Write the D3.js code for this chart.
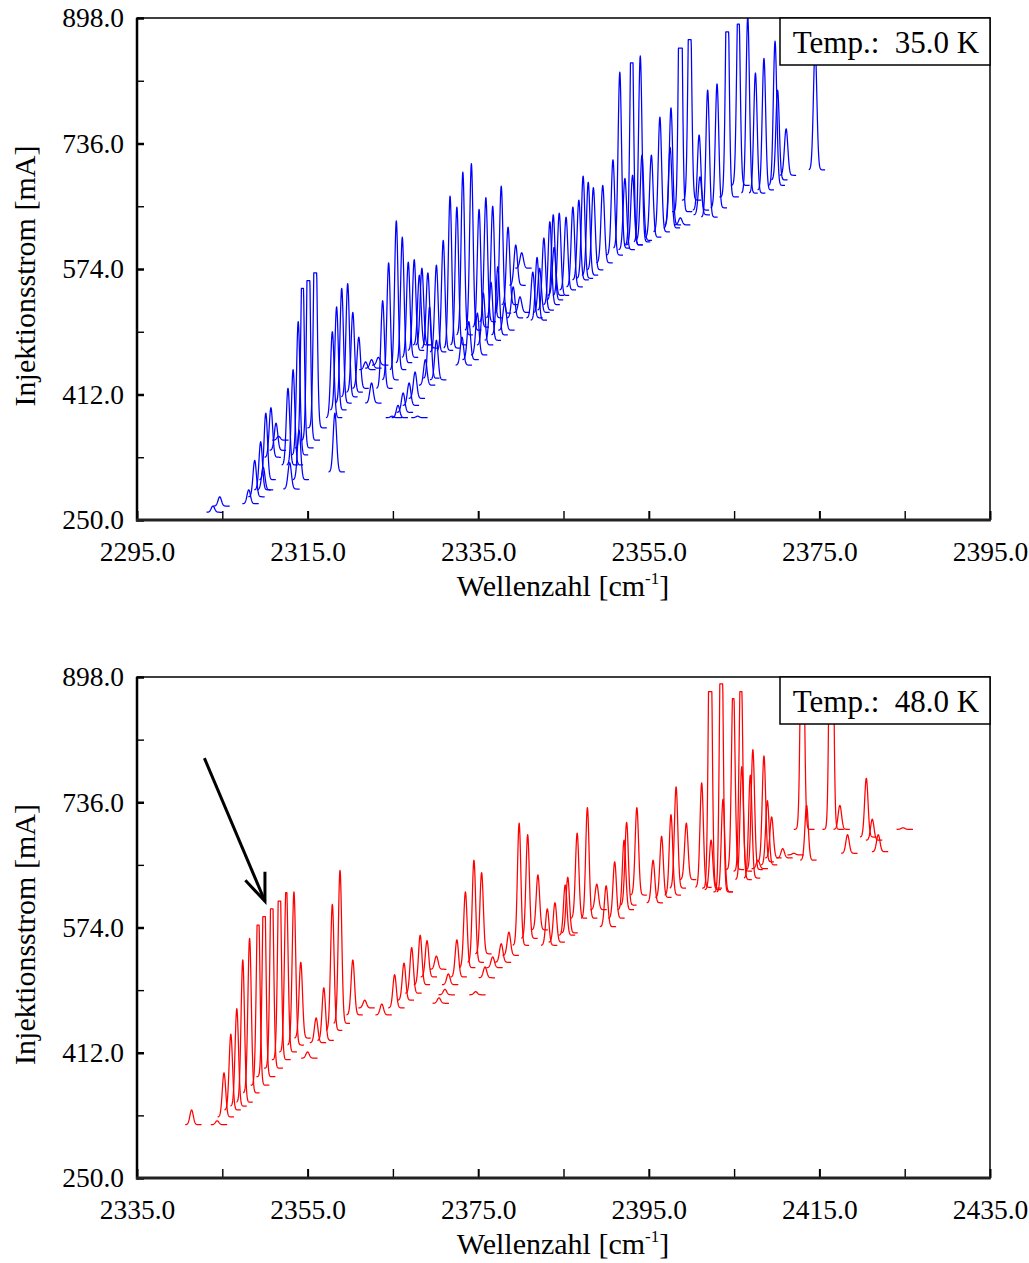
<!DOCTYPE html>
<html>
<head>
<meta charset="utf-8">
<script src="https://cdn.jsdelivr.net/npm/d3@7"></script>
<style>
  body { margin: 0; background: #fff; }
  text { font-family: "Liberation Serif", "Times New Roman", serif; fill: #000; }
</style>
</head>
<body>
<svg id="chart" width="1029" height="1263"></svg>
<script>
// Injection current axis (mA), shared by both panels
const currentTicks = [250, 331, 412, 493, 574, 655, 736, 817, 898];
const currentLabels = [250, 412, 574, 736, 898];

// Wavenumber axes (cm^-1)
const waveTicks35 = [2295, 2305, 2315, 2325, 2335, 2345, 2355, 2365, 2375, 2385, 2395];
const waveLabels35 = [2295, 2315, 2335, 2355, 2375, 2395];
const waveTicks48 = [2335, 2345, 2355, 2365, 2375, 2385, 2395, 2405, 2415, 2425, 2435];
const waveLabels48 = [2335, 2355, 2375, 2395, 2415, 2435];

// Emission spectra at 35.0 K: [peak wavenumber, peak top (mA), trace baseline = injection current (mA), saturated plateau width (cm^-1)]
const spectra35 = [
  [2303.9, 268, 260], [2304.7, 280, 268], [2308.1, 289, 271], [2308.8, 327, 280],
  [2309.5, 351, 289], [2309.8, 318, 289], [2310.1, 388, 302], [2310.7, 395, 331],
  [2311.3, 375, 340], [2311.6, 358, 353], [2312.7, 420, 321], [2312.9, 324, 290],
  [2313.3, 444, 321], [2313.9, 506, 334], [2314.0, 366, 302], [2314.4, 549, 343, 0.25],
  [2315.1, 559, 353, 0.35], [2315.9, 569, 369, 0.35], [2317.9, 493, 382], [2318.2, 388, 312],
  [2318.4, 525, 392], [2319.0, 549, 401], [2319.7, 555, 409], [2320.3, 518, 415],
  [2321.0, 486, 420], [2321.8, 454, 444], [2322.5, 457, 446], [2323.3, 460, 450],
  [2322.5, 427, 401], [2323.8, 533, 420], [2324.5, 582, 431], [2325.4, 636, 444],
  [2326.1, 615, 453], [2326.8, 583, 460], [2327.5, 586, 469], [2328.1, 566, 476],
  [2325.6, 398, 382], [2326.2, 414, 389], [2326.9, 427, 398], [2327.6, 441, 407],
  [2324.9, 384, 382], [2327.9, 384, 382],
  [2328.4, 575, 476], [2329.1, 569, 472], [2330.1, 579, 467], [2330.9, 611, 469],
  [2331.7, 668, 472], [2332.5, 654, 476], [2333.2, 699, 489], [2334.2, 710, 495],
  [2335.1, 651, 499], [2335.9, 666, 506], [2336.7, 655, 511], [2337.7, 681, 517],
  [2338.5, 628, 528], [2339.4, 605, 553], [2340.1, 595, 575],
  [2329.3, 525, 433], [2333.1, 486, 450], [2333.9, 506, 457], [2334.9, 517, 463],
  [2335.6, 543, 476], [2336.5, 557, 482], [2337.3, 577, 489], [2338.1, 530, 495],
  [2339.1, 551, 511], [2339.9, 538, 518], [2328.8, 457, 424], [2330.1, 482, 431],
  [2341.4, 570, 511], [2341.9, 589, 508], [2342.2, 575, 518], [2342.7, 614, 521],
  [2343.4, 635, 528], [2343.8, 644, 534], [2343.9, 602, 540], [2344.5, 646, 540],
  [2345.3, 641, 547], [2346.1, 654, 551], [2346.8, 663, 560], [2347.3, 694, 562],
  [2347.9, 686, 566], [2348.5, 679, 573], [2349.6, 682, 582], [2350.8, 715, 592],
  [2351.6, 828, 601], [2352.2, 691, 599], [2353.0, 840, 605, 0.3], [2354.0, 849, 609],
  [2353.1, 695, 605], [2354.2, 721, 611], [2355.3, 721, 615], [2356.3, 770, 622],
  [2357.5, 731, 627], [2357.6, 782, 631], [2358.7, 640, 631], [2358.7, 859, 648, 0.45],
  [2359.8, 870, 663, 0.35], [2360.9, 747, 650], [2361.0, 693, 644], [2361.9, 805, 641],
  [2363.0, 813, 653], [2364.2, 880, 667, 0.35], [2365.5, 890, 682, 0.25], [2366.6, 900, 672],
  [2367.5, 827, 672], [2368.5, 846, 676], [2369.8, 868, 682], [2370.1, 805, 689],
  [2371.1, 755, 695], [2374.5, 860, 702]
];

// Emission spectra at 48.0 K, same layout
const spectra48 = [
  [2341.4, 338, 319], [2344.4, 324, 319], [2345.2, 386, 329], [2346.0, 436, 338],
  [2346.7, 469, 343], [2347.4, 532, 348], [2348.2, 560, 360], [2349.2, 577, 370, 0.25],
  [2349.9, 588, 381, 0.3], [2350.8, 598, 392, 0.3], [2351.7, 608, 403, 0.3], [2352.5, 619, 413, 0.15],
  [2353.4, 620, 422], [2354.2, 529, 431], [2355.0, 413, 405], [2356.0, 457, 425],
  [2356.9, 496, 428], [2357.9, 604, 441], [2358.8, 648, 450], [2360.3, 532, 461],
  [2361.7, 480, 470], [2363.7, 475, 461], [2365.2, 513, 470], [2366.3, 528, 480],
  [2367.2, 548, 489], [2368.2, 564, 500], [2369.0, 557, 510], [2370.1, 537, 520],
  [2370.4, 483, 476], [2371.1, 494, 487], [2371.5, 514, 500], [2372.5, 558, 510],
  [2373.5, 620, 522], [2374.5, 661, 529], [2374.7, 491, 487], [2375.4, 645, 540],
  [2375.8, 523, 509], [2376.7, 536, 522], [2377.7, 553, 529], [2378.6, 568, 538],
  [2379.8, 709, 551], [2380.8, 694, 560], [2382.0, 642, 571], [2383.1, 598, 551],
  [2384.0, 606, 555], [2385.2, 629, 564], [2385.5, 639, 567], [2386.6, 696, 586],
  [2387.8, 729, 586], [2388.9, 630, 597], [2390.0, 628, 575], [2391.0, 659, 586],
  [2392.1, 687, 597], [2392.4, 710, 603], [2393.6, 729, 616], [2395.5, 661, 606],
  [2396.5, 692, 613], [2397.6, 720, 616], [2398.2, 756, 625], [2399.4, 709, 636],
  [2401.2, 761, 626], [2402.2, 879, 625, 0.4], [2402.3, 687, 623], [2403.5, 889, 620, 0.35],
  [2403.7, 740, 620], [2404.9, 870, 649, 0.2], [2405.8, 879, 647, 0.25], [2405.9, 782, 636],
  [2406.9, 771, 638], [2407.2, 804, 649], [2407.8, 661, 650], [2408.5, 796, 659],
  [2408.9, 738, 655], [2409.4, 717, 664], [2410.7, 676, 664], [2412.0, 670, 668],
  [2413.0, 881, 701, 0.5], [2413.5, 732, 661], [2416.4, 881, 701, 0.6], [2417.4, 732, 701],
  [2418.3, 694, 670], [2420.5, 767, 691], [2421.2, 714, 687], [2421.9, 694, 672],
  [2424.8, 703, 701]
];

// Arrow annotation in the 48 K panel: [wavenumber, current]
const arrowShaft48 = [[2342.9, 793], [2350.0, 608]];
const arrowHead48 = [[2347.7, 635], [2350.0, 608], [2350.0, 646]];

const panels = [
  { top: 18, bottom: 520, xDomain: [2295, 2395], xTicks: waveTicks35, xLabels: waveLabels35,
    spectra: spectra35, color: "#0000ff", temp: "Temp.:  35.0 K" },
  { top: 677, bottom: 1178, xDomain: [2335, 2435], xTicks: waveTicks48, xLabels: waveLabels48,
    spectra: spectra48, color: "#ff0000", temp: "Temp.:  48.0 K", arrow: true }
];

const LEFT = 137, RIGHT = 990;
const SIGMA = 0.2;            // width of a single mode (cm^-1)
const STEP = 0.03;

const svg = d3.select("#chart");
const fmt = d3.format(".1f");

// Mode profile of one spectrum: narrow peak on its baseline, clipped where the detector saturated
function profile(s) {
  const [wn, top, base, plateau = 0] = s;
  const amp = top - base;
  const k = Math.exp(0.5 * Math.pow(plateau / 2 / SIGMA, 2));
  const pts = [];
  for (let d = -0.75 - plateau / 2; d <= 1.2 + plateau / 2; d += STEP) {
    const g = Math.exp(-0.5 * d * d / (SIGMA * SIGMA));
    pts.push([wn + d, base + Math.min(amp, amp * k * g)]);
  }
  return pts;
}

panels.forEach((p, i) => {
  const x = d3.scaleLinear().domain(p.xDomain).range([LEFT, RIGHT]);
  const y = d3.scaleLinear().domain([250, 898]).range([p.bottom, p.top]);
  const g = svg.append("g");

  const clipId = "clip" + i;
  g.append("clipPath").attr("id", clipId)
    .append("rect").attr("x", LEFT).attr("y", p.top)
    .attr("width", RIGHT - LEFT).attr("height", p.bottom - p.top);

  // spectra
  const line = d3.line().x(d => x(d[0])).y(d => y(d[1]));
  g.append("g").attr("clip-path", `url(#${clipId})`)
    .selectAll("path").data(p.spectra).join("path")
    .attr("d", s => line(profile(s)))
    .attr("fill", "none")
    .attr("stroke", p.color)
    .attr("stroke-width", 1.25)
    .attr("stroke-linejoin", "round");

  // frame
  g.append("rect").attr("x", LEFT).attr("y", p.top)
    .attr("width", RIGHT - LEFT).attr("height", p.bottom - p.top)
    .attr("fill", "none").attr("stroke", "#000").attr("stroke-width", 1.5);

  // x axis, ticks pointing inward
  const xAxis = d3.axisBottom(x).tickValues(p.xTicks).tickSize(-9).tickPadding(21)
    .tickFormat(d => p.xLabels.includes(d) ? fmt(d) : "");
  const gx = g.append("g").attr("transform", `translate(0,${p.bottom})`).call(xAxis);
  gx.select(".domain").remove();
  gx.selectAll(".tick line").attr("stroke", "#000")
    .attr("stroke-width", d => p.xLabels.includes(d) ? 2 : 1.4);
  gx.selectAll(".tick text").attr("font-size", 27.5);

  // y axis, ticks pointing inward
  const yAxis = d3.axisLeft(y).tickValues(currentTicks).tickSize(-7).tickPadding(13)
    .tickFormat(d => currentLabels.includes(d) ? fmt(d) : "");
  const gy = g.append("g").attr("transform", `translate(${LEFT},0)`).call(yAxis);
  gy.select(".domain").remove();
  gy.selectAll(".tick line").attr("stroke", "#000")
    .attr("stroke-width", d => currentLabels.includes(d) ? 2.5 : 1.4);
  gy.selectAll(".tick text").attr("font-size", 27.5);

  // heavier left and bottom axis lines
  g.append("line").attr("x1", LEFT).attr("x2", LEFT).attr("y1", p.top).attr("y2", p.bottom + 1.5)
    .attr("stroke", "#000").attr("stroke-width", 2.5);
  g.append("line").attr("x1", LEFT - 1).attr("x2", RIGHT + 0.75).attr("y1", p.bottom).attr("y2", p.bottom)
    .attr("stroke", "#222").attr("stroke-width", 3);

  // temperature box
  g.append("rect").attr("x", 780).attr("y", p.top).attr("width", RIGHT - 780).attr("height", 47)
    .attr("fill", "#fff").attr("stroke", "#000").attr("stroke-width", 1.5);
  g.append("text").attr("x", 886).attr("y", p.top + 35).attr("text-anchor", "middle")
    .attr("font-size", 31).style("white-space", "pre").text(p.temp);

  // axis titles
  const xt = g.append("text").attr("x", 563).attr("y", p.bottom + 76).attr("text-anchor", "middle")
    .attr("font-size", 30);
  xt.append("tspan").text("Wellenzahl [cm");
  xt.append("tspan").attr("font-size", 17).attr("dy", -12).text("-1");
  xt.append("tspan").attr("dy", 12).text("]");

  g.append("text").attr("transform", `translate(35,${(p.top + p.bottom) / 2 + 7}) rotate(-90)`)
    .attr("text-anchor", "middle").attr("font-size", 30).text("Injektionsstrom [mA]");

  if (p.arrow) {
    const al = d3.line().x(d => x(d[0])).y(d => y(d[1]));
    g.append("path").attr("d", al(arrowShaft48)).attr("stroke", "#000").attr("stroke-width", 3).attr("fill", "none");
    g.append("path").attr("d", al(arrowHead48)).attr("stroke", "#000").attr("stroke-width", 3)
      .attr("fill", "none").attr("stroke-linejoin", "miter");
  }
});
</script>
</body>
</html>
